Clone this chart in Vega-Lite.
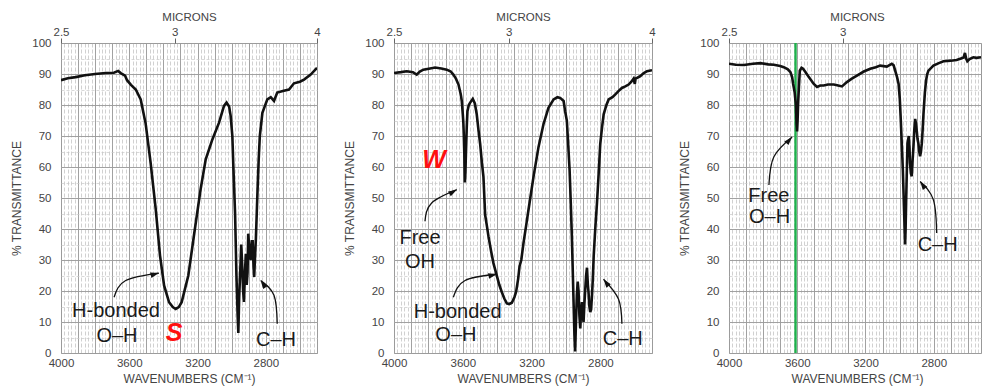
{
  "$schema": "https://vega.github.io/schema/vega-lite/v6.json",
  "padding": {"left": 10, "top": 10, "right": 0, "bottom": 2},
  "spacing": 22,
  "config": {
    "font": "Liberation Sans",
    "view": {"stroke": "#999", "strokeWidth": 1},
    "axis": {"labelFont": "Liberation Sans", "titleFont": "Liberation Sans", "labelColor": "#444", "titleColor": "#444", "labelFontSize": 11.5, "titleFontSize": 12, "titleFontWeight": "normal", "labelFlush": false, "labelOverlap": false}
  },
  "datasets": {
    "spectra": [
      {"p":1,"wn":4000,"T":88},{"p":1,"wn":3960,"T":88.6},{"p":1,"wn":3914,"T":89},{"p":1,"wn":3860,"T":89.6},{"p":1,"wn":3800,"T":90},{"p":1,"wn":3738,"T":90.3},{"p":1,"wn":3690,"T":90.4},{"p":1,"wn":3665,"T":91},{"p":1,"wn":3650,"T":90.3},{"p":1,"wn":3625,"T":89.5},{"p":1,"wn":3613,"T":88},{"p":1,"wn":3590,"T":86.5},{"p":1,"wn":3562,"T":85},{"p":1,"wn":3533,"T":81.8},{"p":1,"wn":3504,"T":74},{"p":1,"wn":3475,"T":61.4},{"p":1,"wn":3445,"T":46.4},{"p":1,"wn":3420,"T":31.5},{"p":1,"wn":3396,"T":21.8},{"p":1,"wn":3367,"T":16.4},{"p":1,"wn":3345,"T":14.8},{"p":1,"wn":3328,"T":14.2},{"p":1,"wn":3310,"T":14.8},{"p":1,"wn":3293,"T":16.4},{"p":1,"wn":3254,"T":25},{"p":1,"wn":3221,"T":37.9},{"p":1,"wn":3182,"T":52.8},{"p":1,"wn":3152,"T":62.5},{"p":1,"wn":3113,"T":68.9},{"p":1,"wn":3074,"T":74.3},{"p":1,"wn":3045,"T":79.7},{"p":1,"wn":3030,"T":80.8},{"p":1,"wn":3015,"T":79.5},{"p":1,"wn":3006,"T":76.5},{"p":1,"wn":2996,"T":70},{"p":1,"wn":2990,"T":60},{"p":1,"wn":2980,"T":45},{"p":1,"wn":2972,"T":25},{"p":1,"wn":2965,"T":12},{"p":1,"wn":2961,"T":6.5},{"p":1,"wn":2956,"T":18},{"p":1,"wn":2950,"T":26},{"p":1,"wn":2944,"T":35},{"p":1,"wn":2938,"T":28},{"p":1,"wn":2933,"T":20},{"p":1,"wn":2928,"T":16.5},{"p":1,"wn":2923,"T":25},{"p":1,"wn":2917,"T":32},{"p":1,"wn":2912,"T":22},{"p":1,"wn":2907,"T":26},{"p":1,"wn":2903,"T":38.5},{"p":1,"wn":2897,"T":34},{"p":1,"wn":2889,"T":30},{"p":1,"wn":2882,"T":36},{"p":1,"wn":2877,"T":36},{"p":1,"wn":2872,"T":28},{"p":1,"wn":2868,"T":24.5},{"p":1,"wn":2864,"T":30},{"p":1,"wn":2858,"T":37},{"p":1,"wn":2850,"T":50},{"p":1,"wn":2842,"T":62},{"p":1,"wn":2835,"T":70},{"p":1,"wn":2820,"T":77.5},{"p":1,"wn":2791,"T":81.8},{"p":1,"wn":2771,"T":82.5},{"p":1,"wn":2752,"T":81.3},{"p":1,"wn":2733,"T":84},{"p":1,"wn":2700,"T":84.5},{"p":1,"wn":2664,"T":85},{"p":1,"wn":2635,"T":87},{"p":1,"wn":2600,"T":87.5},{"p":1,"wn":2576,"T":88.2},{"p":1,"wn":2537,"T":89.8},{"p":1,"wn":2500,"T":92},
      {"p":2,"wn":4000,"T":90.3},{"p":2,"wn":3960,"T":90.6},{"p":2,"wn":3926,"T":90.9},{"p":2,"wn":3890,"T":90.6},{"p":2,"wn":3868,"T":89.8},{"p":2,"wn":3850,"T":90.8},{"p":2,"wn":3829,"T":91.4},{"p":2,"wn":3790,"T":91.8},{"p":2,"wn":3761,"T":92.1},{"p":2,"wn":3725,"T":91.8},{"p":2,"wn":3693,"T":91.4},{"p":2,"wn":3670,"T":90.8},{"p":2,"wn":3655,"T":89.8},{"p":2,"wn":3640,"T":88.5},{"p":2,"wn":3625,"T":86.6},{"p":2,"wn":3612,"T":83.5},{"p":2,"wn":3606,"T":81.3},{"p":2,"wn":3600,"T":77},{"p":2,"wn":3597,"T":74.5},{"p":2,"wn":3594,"T":70},{"p":2,"wn":3591,"T":64},{"p":2,"wn":3588,"T":55},{"p":2,"wn":3585,"T":58},{"p":2,"wn":3581,"T":66},{"p":2,"wn":3577,"T":73},{"p":2,"wn":3573,"T":78},{"p":2,"wn":3565,"T":80},{"p":2,"wn":3558,"T":80.7},{"p":2,"wn":3542,"T":82},{"p":2,"wn":3530,"T":80.5},{"p":2,"wn":3519,"T":77},{"p":2,"wn":3509,"T":72},{"p":2,"wn":3499,"T":67.4},{"p":2,"wn":3490,"T":62},{"p":2,"wn":3480,"T":56.8},{"p":2,"wn":3470,"T":44.5},{"p":2,"wn":3460,"T":41},{"p":2,"wn":3451,"T":37.7},{"p":2,"wn":3436,"T":33},{"p":2,"wn":3422,"T":29},{"p":2,"wn":3402,"T":24.9},{"p":2,"wn":3388,"T":22},{"p":2,"wn":3373,"T":19.6},{"p":2,"wn":3358,"T":17.5},{"p":2,"wn":3344,"T":16},{"p":2,"wn":3330,"T":15.8},{"p":2,"wn":3315,"T":16.2},{"p":2,"wn":3300,"T":18},{"p":2,"wn":3290,"T":19.8},{"p":2,"wn":3278,"T":24},{"p":2,"wn":3270,"T":28},{"p":2,"wn":3260,"T":30},{"p":2,"wn":3247,"T":35.5},{"p":2,"wn":3232,"T":41},{"p":2,"wn":3218,"T":46.2},{"p":2,"wn":3189,"T":56.8},{"p":2,"wn":3160,"T":66.4},{"p":2,"wn":3131,"T":73.8},{"p":2,"wn":3102,"T":79.1},{"p":2,"wn":3072,"T":81.8},{"p":2,"wn":3050,"T":82.5},{"p":2,"wn":3034,"T":82.3},{"p":2,"wn":3014,"T":81.3},{"p":2,"wn":3005,"T":78},{"p":2,"wn":2995,"T":74.9},{"p":2,"wn":2987,"T":67},{"p":2,"wn":2979,"T":58.9},{"p":2,"wn":2972,"T":48},{"p":2,"wn":2966,"T":37.7},{"p":2,"wn":2960,"T":25},{"p":2,"wn":2956,"T":16.4},{"p":2,"wn":2951,"T":6},{"p":2,"wn":2947,"T":0.5},{"p":2,"wn":2942,"T":10},{"p":2,"wn":2937,"T":18.5},{"p":2,"wn":2932,"T":23},{"p":2,"wn":2927,"T":20},{"p":2,"wn":2922,"T":12},{"p":2,"wn":2917,"T":7.9},{"p":2,"wn":2912,"T":14},{"p":2,"wn":2907,"T":16.4},{"p":2,"wn":2902,"T":12},{"p":2,"wn":2898,"T":10},{"p":2,"wn":2893,"T":16},{"p":2,"wn":2888,"T":20.6},{"p":2,"wn":2883,"T":25},{"p":2,"wn":2878,"T":27.5},{"p":2,"wn":2873,"T":22},{"p":2,"wn":2869,"T":19.6},{"p":2,"wn":2864,"T":15},{"p":2,"wn":2859,"T":13.2},{"p":2,"wn":2854,"T":14},{"p":2,"wn":2849,"T":18.5},{"p":2,"wn":2844,"T":24},{"p":2,"wn":2839,"T":31.3},{"p":2,"wn":2830,"T":40},{"p":2,"wn":2820,"T":48.3},{"p":2,"wn":2810,"T":58},{"p":2,"wn":2801,"T":67.4},{"p":2,"wn":2790,"T":73},{"p":2,"wn":2781,"T":77},{"p":2,"wn":2765,"T":80},{"p":2,"wn":2752,"T":81.8},{"p":2,"wn":2730,"T":82.5},{"p":2,"wn":2713,"T":83.4},{"p":2,"wn":2695,"T":84.5},{"p":2,"wn":2675,"T":85.5},{"p":2,"wn":2655,"T":86},{"p":2,"wn":2636,"T":86.6},{"p":2,"wn":2620,"T":87.5},{"p":2,"wn":2607,"T":88.5},{"p":2,"wn":2600,"T":86.8},{"p":2,"wn":2595,"T":88.6},{"p":2,"wn":2585,"T":88.8},{"p":2,"wn":2568,"T":89.3},{"p":2,"wn":2550,"T":90.2},{"p":2,"wn":2529,"T":90.9},{"p":2,"wn":2500,"T":91.2},
      {"p":3,"wn":4000,"T":93.3},{"p":3,"wn":3960,"T":93},{"p":3,"wn":3912,"T":92.9},{"p":3,"wn":3860,"T":93.3},{"p":3,"wn":3815,"T":93.5},{"p":3,"wn":3770,"T":93.1},{"p":3,"wn":3737,"T":93},{"p":3,"wn":3700,"T":92.6},{"p":3,"wn":3679,"T":92.2},{"p":3,"wn":3655,"T":91.5},{"p":3,"wn":3640,"T":90.6},{"p":3,"wn":3630,"T":89},{"p":3,"wn":3624,"T":86.8},{"p":3,"wn":3615,"T":84},{"p":3,"wn":3608,"T":80},{"p":3,"wn":3604,"T":74},{"p":3,"wn":3601,"T":71.5},{"p":3,"wn":3598,"T":75},{"p":3,"wn":3595,"T":80.4},{"p":3,"wn":3590,"T":86},{"p":3,"wn":3585,"T":91.1},{"p":3,"wn":3575,"T":92},{"p":3,"wn":3566,"T":91.7},{"p":3,"wn":3550,"T":90.5},{"p":3,"wn":3532,"T":89},{"p":3,"wn":3503,"T":86.8},{"p":3,"wn":3484,"T":85.8},{"p":3,"wn":3465,"T":86.3},{"p":3,"wn":3445,"T":86.3},{"p":3,"wn":3420,"T":86.6},{"p":3,"wn":3386,"T":86.6},{"p":3,"wn":3360,"T":86.3},{"p":3,"wn":3338,"T":86},{"p":3,"wn":3309,"T":87.4},{"p":3,"wn":3280,"T":88.5},{"p":3,"wn":3250,"T":89.5},{"p":3,"wn":3210,"T":90.8},{"p":3,"wn":3172,"T":91.7},{"p":3,"wn":3140,"T":92.2},{"p":3,"wn":3114,"T":92.7},{"p":3,"wn":3075,"T":92.4},{"p":3,"wn":3046,"T":93.3},{"p":3,"wn":3035,"T":92.8},{"p":3,"wn":3026,"T":91.1},{"p":3,"wn":3015,"T":89},{"p":3,"wn":3006,"T":86.8},{"p":3,"wn":2999,"T":82},{"p":3,"wn":2993,"T":75},{"p":3,"wn":2987,"T":67},{"p":3,"wn":2981,"T":59},{"p":3,"wn":2974,"T":46.2},{"p":3,"wn":2968,"T":35},{"p":3,"wn":2965,"T":40},{"p":3,"wn":2962,"T":48.3},{"p":3,"wn":2958,"T":58},{"p":3,"wn":2954,"T":67.6},{"p":3,"wn":2946,"T":70},{"p":3,"wn":2942,"T":66},{"p":3,"wn":2939,"T":61.2},{"p":3,"wn":2934,"T":58},{"p":3,"wn":2929,"T":57},{"p":3,"wn":2924,"T":62},{"p":3,"wn":2919,"T":66.5},{"p":3,"wn":2914,"T":72},{"p":3,"wn":2909,"T":75.5},{"p":3,"wn":2904,"T":74},{"p":3,"wn":2900,"T":71.9},{"p":3,"wn":2895,"T":69},{"p":3,"wn":2890,"T":67.6},{"p":3,"wn":2885,"T":65},{"p":3,"wn":2880,"T":63.5},{"p":3,"wn":2875,"T":65},{"p":3,"wn":2870,"T":67.6},{"p":3,"wn":2865,"T":72},{"p":3,"wn":2860,"T":77.2},{"p":3,"wn":2852,"T":84},{"p":3,"wn":2845,"T":87.9},{"p":3,"wn":2838,"T":90},{"p":3,"wn":2831,"T":91.1},{"p":3,"wn":2815,"T":92},{"p":3,"wn":2802,"T":92.7},{"p":3,"wn":2770,"T":93.5},{"p":3,"wn":2743,"T":94.1},{"p":3,"wn":2700,"T":94.3},{"p":3,"wn":2666,"T":94.5},{"p":3,"wn":2640,"T":95},{"p":3,"wn":2625,"T":95.3},{"p":3,"wn":2617,"T":96.8},{"p":3,"wn":2610,"T":95},{"p":3,"wn":2603,"T":94.1},{"p":3,"wn":2590,"T":94.8},{"p":3,"wn":2568,"T":95.4},{"p":3,"wn":2550,"T":95.2},{"p":3,"wn":2523,"T":95.4}
    ],
    "labels": [
      {"p":1,"wn":3678,"T":13.5,"text":"H-bonded","kind":"note"},
      {"p":1,"wn":3672,"T":5.5,"text":"O–H","kind":"note"},
      {"p":1,"wn":3338,"T":6.5,"text":"S","kind":"strength"},
      {"p":1,"wn":2740,"T":4.2,"text":"C–H","kind":"note"},
      {"p":2,"wn":3767,"T":62.2,"text":"W","kind":"strength"},
      {"p":2,"wn":3849,"T":37.2,"text":"Free","kind":"note"},
      {"p":2,"wn":3849,"T":29.2,"text":"OH","kind":"note"},
      {"p":2,"wn":3630,"T":13.1,"text":"H-bonded","kind":"note"},
      {"p":2,"wn":3640,"T":5.8,"text":"O–H","kind":"note"},
      {"p":2,"wn":2670,"T":4.5,"text":"C–H","kind":"note"},
      {"p":3,"wn":3766,"T":50.8,"text":"Free","kind":"note"},
      {"p":3,"wn":3762,"T":43.9,"text":"O–H","kind":"note"},
      {"p":3,"wn":2777,"T":35,"text":"C–H","kind":"note"}
    ],
    "arrows": [
      {"p":1,"id":"a1","ord":1,"wn":3689,"T":18},{"p":1,"id":"a1","ord":2,"wn":3621,"T":23.4},{"p":1,"id":"a1","ord":3,"wn":3426,"T":25.8},
      {"p":1,"id":"a2","ord":1,"wn":2733,"T":9.4},{"p":1,"id":"a2","ord":2,"wn":2752,"T":18.6},{"p":1,"id":"a2","ord":3,"wn":2830,"T":23.4},
      {"p":2,"id":"a3","ord":1,"wn":3820,"T":42.5},{"p":2,"id":"a3","ord":2,"wn":3781,"T":48.4},{"p":2,"id":"a3","ord":3,"wn":3635,"T":52.7},
      {"p":2,"id":"a4","ord":1,"wn":3655,"T":18},{"p":2,"id":"a4","ord":2,"wn":3587,"T":23.4},{"p":2,"id":"a4","ord":3,"wn":3402,"T":25.4},
      {"p":2,"id":"a5","ord":1,"wn":2675,"T":9.4},{"p":2,"id":"a5","ord":2,"wn":2695,"T":17.4},{"p":2,"id":"a5","ord":3,"wn":2782,"T":23.8},
      {"p":3,"id":"a6","ord":1,"wn":3766,"T":54.2},{"p":3,"id":"a6","ord":2,"wn":3737,"T":63.3},{"p":3,"id":"a6","ord":3,"wn":3630,"T":69.7},
      {"p":3,"id":"a7","ord":1,"wn":2783,"T":38.7},{"p":3,"id":"a7","ord":2,"wn":2802,"T":49.4},{"p":3,"id":"a7","ord":3,"wn":2880,"T":55.3}
    ],
    "markers": [{"p":3,"wn":3610}]
  },
  "hconcat": [
    {
      "width": 256, "height": 310,
      "resolve": {"axis": {"x": "independent", "y": "independent"}},
      "layer": [
        {"data":{"name":"spectra"},"transform":[{"filter":"datum.p==1"}],"mark":{"type":"line","strokeOpacity":0},
         "encoding":{"x":{"field":"wn","type":"quantitative","scale":{"domain":[4000,2500],"nice":false,"zero":false},"axis":{"orient":"bottom","grid":true,"gridColor":"#bdbdbd","gridDash":[4,2],"gridWidth":0.7,"tickCount":75,"labels":false,"ticks":false,"domain":false,"title":null}},
                     "y":{"field":"T","type":"quantitative","scale":{"domain":[0,100],"nice":false,"zero":false},"axis":{"orient":"left","grid":true,"gridColor":"#c8c8c8","gridDash":[3,2],"gridWidth":0.7,"tickCount":20,"labels":false,"ticks":false,"domain":false,"title":null}}}},
        {"data":{"name":"spectra"},"transform":[{"filter":"datum.p==1"}],"mark":{"type":"line","strokeOpacity":0},
         "encoding":{"x":{"field":"wn","type":"quantitative","axis":{"orient":"bottom","grid":true,"gridColor":"#9a9a9a","gridWidth":0.9,"tickCount":15,"labels":false,"ticks":false,"domain":false,"title":null}},
                     "y":{"field":"T","type":"quantitative","axis":{"orient":"left","grid":true,"gridColor":"#9a9a9a","gridWidth":0.9,"tickCount":10,"labels":false,"ticks":false,"domain":false,"title":null}}}},
        {"data":{"name":"spectra"},"transform":[{"filter":"datum.p==1"}],"mark":{"type":"line","strokeOpacity":0},
         "encoding":{"x":{"field":"wn","type":"quantitative","axis":{"orient":"top","values":[4000,3333.3333,2500],"labelExpr":"format(10000/datum.value,'.2~f')","title":"MICRONS","titleFontSize":11.5,"titlePadding":4,"grid":false,"ticks":true,"tickSize":5,"tickColor":"#666","labelPadding":1,"domain":false}},
                     "y":{"field":"T","type":"quantitative","axis":null}}},
        {"data":{"name":"spectra"},"transform":[{"filter":"datum.p==1"}],"mark":{"type":"line","color":"#111","strokeWidth":2.6,"clip":true},
         "encoding":{"x":{"field":"wn","type":"quantitative","axis":{"orient":"bottom","values":[4000,3600,3200,2800],"format":"d","title":"WAVENUMBERS (CM⁻¹)","titlePadding":5,"grid":false,"ticks":false,"tickSize":0,"labelPadding":4,"domain":false}},
                     "y":{"field":"T","type":"quantitative","axis":{"orient":"left","values":[0,10,20,30,40,50,60,70,80,90,100],"title":"% TRANSMITTANCE","titlePadding":8,"grid":false,"ticks":false,"tickSize":0,"labelPadding":10,"domain":false}}}},
        {"data":{"name":"arrows"},"transform":[{"filter":"datum.p==1"}],"mark":{"type":"line","interpolate":"natural","color":"#111","strokeWidth":1.3},
         "encoding":{"x":{"field":"wn","type":"quantitative","axis":null},"y":{"field":"T","type":"quantitative","axis":null},"detail":{"field":"id"},"order":{"field":"ord"}}},
        {"data":{"name":"arrows"},"transform":[{"filter":"datum.id=='a1' && datum.ord==3"}],"mark":{"type":"point","shape":"M0,0L0.55,1.7L-0.55,1.7Z","angle":75,"filled":true,"size":100,"color":"#111","opacity":1},
         "encoding":{"x":{"field":"wn","type":"quantitative","axis":null},"y":{"field":"T","type":"quantitative","axis":null}}},
        {"data":{"name":"arrows"},"transform":[{"filter":"datum.id=='a2' && datum.ord==3"}],"mark":{"type":"point","shape":"M0,0L0.55,1.7L-0.55,1.7Z","angle":326,"filled":true,"size":100,"color":"#111","opacity":1},
         "encoding":{"x":{"field":"wn","type":"quantitative","axis":null},"y":{"field":"T","type":"quantitative","axis":null}}},
        {"data":{"name":"labels"},"transform":[{"filter":"datum.p==1 && datum.kind=='note'"}],"mark":{"type":"text","font":"Liberation Sans","fontSize":20,"color":"#1a1a1a","align":"center","baseline":"middle"},
         "encoding":{"x":{"field":"wn","type":"quantitative","axis":null},"y":{"field":"T","type":"quantitative","axis":null},"text":{"field":"text"}}},
        {"data":{"name":"labels"},"transform":[{"filter":"datum.p==1 && datum.kind=='strength'"}],"mark":{"type":"text","font":"Liberation Sans","fontSize":25,"fontWeight":"bold","fontStyle":"italic","color":"#ff1010","align":"center","baseline":"middle"},
         "encoding":{"x":{"field":"wn","type":"quantitative","axis":null},"y":{"field":"T","type":"quantitative","axis":null},"text":{"field":"text"}}}
      ]
    },
    {
      "width": 258, "height": 310,
      "resolve": {"axis": {"x": "independent", "y": "independent"}},
      "layer": [
        {"data":{"name":"spectra"},"transform":[{"filter":"datum.p==2"}],"mark":{"type":"line","strokeOpacity":0},
         "encoding":{"x":{"field":"wn","type":"quantitative","scale":{"domain":[4000,2500],"nice":false,"zero":false},"axis":{"orient":"bottom","grid":true,"gridColor":"#bdbdbd","gridDash":[4,2],"gridWidth":0.7,"tickCount":75,"labels":false,"ticks":false,"domain":false,"title":null}},
                     "y":{"field":"T","type":"quantitative","scale":{"domain":[0,100],"nice":false,"zero":false},"axis":{"orient":"left","grid":true,"gridColor":"#c8c8c8","gridDash":[3,2],"gridWidth":0.7,"tickCount":20,"labels":false,"ticks":false,"domain":false,"title":null}}}},
        {"data":{"name":"spectra"},"transform":[{"filter":"datum.p==2"}],"mark":{"type":"line","strokeOpacity":0},
         "encoding":{"x":{"field":"wn","type":"quantitative","axis":{"orient":"bottom","grid":true,"gridColor":"#9a9a9a","gridWidth":0.9,"tickCount":15,"labels":false,"ticks":false,"domain":false,"title":null}},
                     "y":{"field":"T","type":"quantitative","axis":{"orient":"left","grid":true,"gridColor":"#9a9a9a","gridWidth":0.9,"tickCount":10,"labels":false,"ticks":false,"domain":false,"title":null}}}},
        {"data":{"name":"spectra"},"transform":[{"filter":"datum.p==2"}],"mark":{"type":"line","strokeOpacity":0},
         "encoding":{"x":{"field":"wn","type":"quantitative","axis":{"orient":"top","values":[4000,3333.3333,2500],"labelExpr":"format(10000/datum.value,'.2~f')","title":"MICRONS","titleFontSize":11.5,"titlePadding":4,"grid":false,"ticks":true,"tickSize":5,"tickColor":"#666","labelPadding":1,"domain":false}},
                     "y":{"field":"T","type":"quantitative","axis":null}}},
        {"data":{"name":"spectra"},"transform":[{"filter":"datum.p==2"}],"mark":{"type":"line","color":"#111","strokeWidth":2.6,"clip":true},
         "encoding":{"x":{"field":"wn","type":"quantitative","axis":{"orient":"bottom","values":[4000,3600,3200,2800],"format":"d","title":"WAVENUMBERS (CM⁻¹)","titlePadding":5,"grid":false,"ticks":false,"tickSize":0,"labelPadding":4,"domain":false}},
                     "y":{"field":"T","type":"quantitative","axis":{"orient":"left","values":[0,10,20,30,40,50,60,70,80,90,100],"title":"% TRANSMITTANCE","titlePadding":8,"grid":false,"ticks":false,"tickSize":0,"labelPadding":10,"domain":false}}}},
        {"data":{"name":"arrows"},"transform":[{"filter":"datum.p==2"}],"mark":{"type":"line","interpolate":"natural","color":"#111","strokeWidth":1.3},
         "encoding":{"x":{"field":"wn","type":"quantitative","axis":null},"y":{"field":"T","type":"quantitative","axis":null},"detail":{"field":"id"},"order":{"field":"ord"}}},
        {"data":{"name":"arrows"},"transform":[{"filter":"datum.id=='a3' && datum.ord==3"}],"mark":{"type":"point","shape":"M0,0L0.55,1.7L-0.55,1.7Z","angle":60,"filled":true,"size":100,"color":"#111","opacity":1},
         "encoding":{"x":{"field":"wn","type":"quantitative","axis":null},"y":{"field":"T","type":"quantitative","axis":null}}},
        {"data":{"name":"arrows"},"transform":[{"filter":"datum.id=='a4' && datum.ord==3"}],"mark":{"type":"point","shape":"M0,0L0.55,1.7L-0.55,1.7Z","angle":78,"filled":true,"size":100,"color":"#111","opacity":1},
         "encoding":{"x":{"field":"wn","type":"quantitative","axis":null},"y":{"field":"T","type":"quantitative","axis":null}}},
        {"data":{"name":"arrows"},"transform":[{"filter":"datum.id=='a5' && datum.ord==3"}],"mark":{"type":"point","shape":"M0,0L0.55,1.7L-0.55,1.7Z","angle":323,"filled":true,"size":100,"color":"#111","opacity":1},
         "encoding":{"x":{"field":"wn","type":"quantitative","axis":null},"y":{"field":"T","type":"quantitative","axis":null}}},
        {"data":{"name":"labels"},"transform":[{"filter":"datum.p==2 && datum.kind=='note'"}],"mark":{"type":"text","font":"Liberation Sans","fontSize":20,"color":"#1a1a1a","align":"center","baseline":"middle"},
         "encoding":{"x":{"field":"wn","type":"quantitative","axis":null},"y":{"field":"T","type":"quantitative","axis":null},"text":{"field":"text"}}},
        {"data":{"name":"labels"},"transform":[{"filter":"datum.p==2 && datum.kind=='strength'"}],"mark":{"type":"text","font":"Liberation Sans","fontSize":25,"fontWeight":"bold","fontStyle":"italic","color":"#ff1010","align":"center","baseline":"middle"},
         "encoding":{"x":{"field":"wn","type":"quantitative","axis":null},"y":{"field":"T","type":"quantitative","axis":null},"text":{"field":"text"}}}
      ]
    },
    {
      "width": 252, "height": 310,
      "resolve": {"axis": {"x": "independent", "y": "independent"}},
      "layer": [
        {"data":{"name":"spectra"},"transform":[{"filter":"datum.p==3"}],"mark":{"type":"line","strokeOpacity":0},
         "encoding":{"x":{"field":"wn","type":"quantitative","scale":{"domain":[4000,2523],"nice":false,"zero":false},"axis":{"orient":"bottom","grid":true,"gridColor":"#bdbdbd","gridDash":[4,2],"gridWidth":0.7,"tickCount":74,"labels":false,"ticks":false,"domain":false,"title":null}},
                     "y":{"field":"T","type":"quantitative","scale":{"domain":[0,100],"nice":false,"zero":false},"axis":{"orient":"left","grid":true,"gridColor":"#c8c8c8","gridDash":[3,2],"gridWidth":0.7,"tickCount":20,"labels":false,"ticks":false,"domain":false,"title":null}}}},
        {"data":{"name":"spectra"},"transform":[{"filter":"datum.p==3"}],"mark":{"type":"line","strokeOpacity":0},
         "encoding":{"x":{"field":"wn","type":"quantitative","axis":{"orient":"bottom","grid":true,"gridColor":"#9a9a9a","gridWidth":0.9,"values":[4000,3900,3800,3700,3600,3500,3400,3300,3200,3100,3000,2900,2800,2700,2600],"labels":false,"ticks":false,"domain":false,"title":null}},
                     "y":{"field":"T","type":"quantitative","axis":{"orient":"left","grid":true,"gridColor":"#9a9a9a","gridWidth":0.9,"tickCount":10,"labels":false,"ticks":false,"domain":false,"title":null}}}},
        {"data":{"name":"spectra"},"transform":[{"filter":"datum.p==3"}],"mark":{"type":"line","strokeOpacity":0},
         "encoding":{"x":{"field":"wn","type":"quantitative","axis":{"orient":"top","values":[4000,3333.3333],"labelExpr":"format(10000/datum.value,'.2~f')","title":"MICRONS","titleFontSize":11.5,"titlePadding":4,"titleX":128,"grid":false,"ticks":true,"tickSize":5,"tickColor":"#666","labelPadding":1,"domain":false}},
                     "y":{"field":"T","type":"quantitative","axis":null}}},
        {"data":{"name":"markers"},"mark":{"type":"rule","color":"#1db14b","strokeWidth":2.4},
         "encoding":{"x":{"field":"wn","type":"quantitative","axis":null}}},
        {"data":{"name":"spectra"},"transform":[{"filter":"datum.p==3"}],"mark":{"type":"line","color":"#111","strokeWidth":2.6,"clip":true},
         "encoding":{"x":{"field":"wn","type":"quantitative","axis":{"orient":"bottom","values":[4000,3600,3200,2800],"format":"d","title":"WAVENUMBERS (CM⁻¹)","titleX":128,"titlePadding":5,"grid":false,"ticks":false,"tickSize":0,"labelPadding":4,"domain":false}},
                     "y":{"field":"T","type":"quantitative","axis":{"orient":"left","values":[0,10,20,30,40,50,60,70,80,90,100],"title":"% TRANSMITTANCE","titlePadding":8,"grid":false,"ticks":false,"tickSize":0,"labelPadding":10,"domain":false}}}},
        {"data":{"name":"arrows"},"transform":[{"filter":"datum.p==3"}],"mark":{"type":"line","interpolate":"natural","color":"#111","strokeWidth":1.3},
         "encoding":{"x":{"field":"wn","type":"quantitative","axis":null},"y":{"field":"T","type":"quantitative","axis":null},"detail":{"field":"id"},"order":{"field":"ord"}}},
        {"data":{"name":"arrows"},"transform":[{"filter":"datum.id=='a6' && datum.ord==3"}],"mark":{"type":"point","shape":"M0,0L0.55,1.7L-0.55,1.7Z","angle":42,"filled":true,"size":100,"color":"#111","opacity":1},
         "encoding":{"x":{"field":"wn","type":"quantitative","axis":null},"y":{"field":"T","type":"quantitative","axis":null}}},
        {"data":{"name":"arrows"},"transform":[{"filter":"datum.id=='a7' && datum.ord==3"}],"mark":{"type":"point","shape":"M0,0L0.55,1.7L-0.55,1.7Z","angle":324,"filled":true,"size":100,"color":"#111","opacity":1},
         "encoding":{"x":{"field":"wn","type":"quantitative","axis":null},"y":{"field":"T","type":"quantitative","axis":null}}},
        {"data":{"name":"labels"},"transform":[{"filter":"datum.p==3 && datum.kind=='note'"}],"mark":{"type":"text","font":"Liberation Sans","fontSize":20,"color":"#1a1a1a","align":"center","baseline":"middle"},
         "encoding":{"x":{"field":"wn","type":"quantitative","axis":null},"y":{"field":"T","type":"quantitative","axis":null},"text":{"field":"text"}}}
      ]
    }
  ]
}
